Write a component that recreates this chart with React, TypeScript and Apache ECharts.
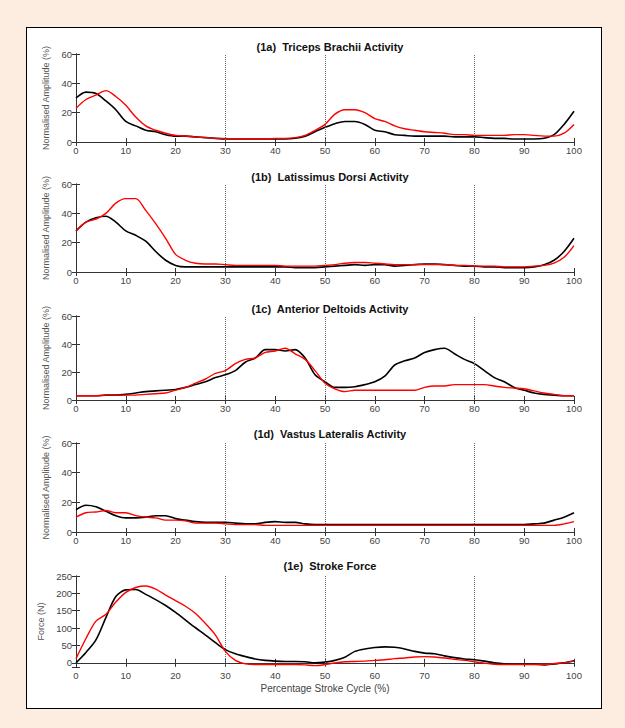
import React, { useEffect, useRef } from "react";
import * as echarts from "echarts";

const X = [0, 2, 4, 6, 8, 10, 12, 14, 16, 18, 20, 22, 24, 26, 28, 30, 32, 34, 36, 38, 40, 42, 44, 46, 48, 50,
  52, 54, 56, 58, 60, 62, 64, 66, 68, 70, 72, 74, 76, 78, 80, 82, 84, 86, 88, 90, 92, 94, 96, 98, 100];

const TITLES = [
  "(1a)  Triceps Brachii Activity",
  "(1b)  Latissimus Dorsi Activity",
  "(1c)  Anterior Deltoids Activity",
  "(1d)  Vastus Lateralis Activity",
  "(1e)  Stroke Force",
];

const tricepsBlack = [30, 34, 33, 28, 22, 14, 11, 8, 7, 5, 4, 4, 3.5, 3, 2.5, 2, 2, 2, 2, 2, 2, 2, 2.5, 4, 7, 10,
  12.5, 14, 14, 12, 8, 7, 5, 4.5, 4, 4, 4, 4, 3.5, 3.5, 3.5, 3, 2.5, 2.5, 2, 2, 2, 2.5, 5, 12, 21];
const tricepsRed = [23, 29, 32, 35, 31, 25, 17, 11, 8, 6, 4.5, 4, 3.5, 3, 2.5, 2.5, 2, 2, 2, 2, 2.5, 2.5, 3, 4.5, 8, 12,
  19, 22, 22, 20, 16, 14, 11, 9, 8, 7, 6.5, 6, 5, 5, 4.5, 4.5, 4.5, 4.5, 5, 5, 4.5, 4, 4, 6, 12];

const latBlack = [28, 34, 37, 38, 34, 28, 25, 21, 14, 8, 4.5, 3.5, 3.5, 3.5, 3.5, 3.5, 3.5, 3.5, 3.5, 3.5, 3.5, 3.5, 3, 3, 3, 3.5,
  4, 4.5, 5, 4.5, 5, 5, 4, 4.5, 5, 5.5, 5.5, 5, 4.5, 4, 4, 3.5, 3.5, 3, 3, 3, 3.5, 5, 8, 14, 23];
const latRed = [28, 34, 36, 40, 47, 50, 50, 42, 33, 23, 12, 8, 6, 5.5, 5.5, 5, 4.5, 4.5, 4.5, 4.5, 4.5, 4, 4, 4, 4, 4.5,
  5, 6, 6.5, 6.5, 6, 5.5, 5, 5, 5, 5, 5, 5, 4.5, 4.5, 4, 4, 4, 3.5, 3.5, 3.5, 4, 4.5, 6, 10, 18];

const deltBlack = [3, 3, 3, 3.5, 3.5, 4, 5, 6, 6.5, 7, 7.5, 9, 11, 13, 16, 18, 21, 27, 30, 36, 36, 35, 36, 30, 18, 13,
  9, 9, 9.5, 11, 13, 17, 25, 28, 30, 34, 36, 37, 33, 29, 26, 21, 16, 13, 9, 7, 5, 4, 3.5, 3, 3];
const deltRed = [3, 3, 3, 3.5, 3.5, 3.5, 3.5, 4, 4.5, 5, 7, 9, 12, 15, 19, 21, 26, 29, 30, 34, 35, 37, 33, 29, 21, 12,
  8, 6, 7, 7, 7, 7, 7, 7, 7, 9, 10, 10, 11, 11, 11, 11, 10, 9, 8.5, 8, 6.5, 5, 4, 3, 3];

const vastBlack = [15, 18, 17, 14, 11, 9.5, 9.5, 10, 11, 11, 9, 8, 7, 6.5, 6.5, 6.5, 6, 5.5, 5.5, 6.5, 7, 6.5, 6.5, 5.5, 5, 5,
  5, 5, 5, 5, 5, 5, 5, 5, 5, 5, 5, 5, 5, 5, 5, 5, 5, 5, 5, 5, 5.5, 6, 8, 10, 13];
const vastRed = [10, 13, 13.5, 14.5, 13, 13, 11, 10, 9.5, 8, 8, 7.5, 6, 6, 6, 5.5, 5, 5, 5, 4.5, 4.5, 4.5, 4.5, 4.5, 4.5, 4.5,
  4.5, 4.5, 4.5, 4.5, 4.5, 4.5, 4.5, 4.5, 4.5, 4.5, 4.5, 4.5, 4.5, 4.5, 4.5, 4.5, 4.5, 4.5, 4.5, 4.5, 4.5, 4.5, 4.5, 5.5, 7];

const forceBlack = [0, 30, 66, 130, 191, 210, 211, 197, 182, 165, 145, 123, 101, 80, 58, 38, 26, 18, 11, 7, 5, 4, 4, 3, 0, 2,
  7, 16, 33, 40, 44, 46, 45, 40, 33, 28, 26, 20, 15, 11, 9, 5, 0, -3, -4, -4, -4, -6, -3, 0, 6];
const forceRed = [12, 70, 120, 140, 175, 203, 217, 221, 212, 195, 179, 163, 142, 113, 80, 33, 7, -3, -5, -5, -5, -5, -5, -6, -8, -5,
  0, 3, 4, 5, 7, 9, 12, 14, 17, 18, 17, 14, 10, 7, 3, -1, -4, -5, -5, -5, -5, -5, -2, 0, 5];

const BLACK_SERIES = [tricepsBlack, latBlack, deltBlack, vastBlack, forceBlack];
const RED_SERIES = [tricepsRed, latRed, deltRed, vastRed, forceRed];
const MARKERS = [30, 50, 80];
const Y_NAMES = ["Normalised Amplitude (%)", "Normalised Amplitude (%)", "Normalised Amplitude (%)", "Normalised Amplitude (%)", "Force (N)"];
const X_NAME = "Percentage Stroke Cycle (%)";

export default function App() {
  const ref = useRef<HTMLDivElement>(null);
  useEffect(() => {
    const chart = echarts.init(ref.current!, null, { renderer: "svg" });
    const FONT = "'Liberation Sans', Arial, sans-serif";
    const grids = [
      { top: 54, height: 88 },
      { top: 184, height: 88 },
      { top: 316, height: 84 },
      { top: 443, height: 89 },
      { top: 576, height: 91 },
    ];
    const titleTops = [36, 166, 298, 423, 555];
    const axisColor = "#333";
    const labelColor = "#444";
    const xAxes: any[] = [];
    const yAxes: any[] = [];
    const series: any[] = [];
    grids.forEach((g, i) => {
      const isForce = i === 4;
      xAxes.push({
        type: "value", gridIndex: i, min: 0, max: 100, interval: 10, position: "bottom",
        axisLine: { show: true, lineStyle: { color: axisColor, width: 1 } },
        axisTick: { show: true, inside: true, length: 4, lineStyle: { color: axisColor } },
        axisLabel: { show: true, color: labelColor, fontSize: 9.5, fontFamily: FONT, margin: 3 },
        splitLine: { show: false },
        name: isForce ? X_NAME : "", nameLocation: "middle", nameGap: 16,
        nameTextStyle: { color: labelColor, fontSize: 10, fontFamily: FONT },
      });
      xAxes.push({
        type: "value", gridIndex: i, min: 0, max: 100, interval: 10, position: "top",
        axisLine: { show: true, lineStyle: { color: axisColor, width: 1 } },
        axisTick: { show: true, inside: true, length: 4, lineStyle: { color: axisColor } },
        axisLabel: { show: false }, splitLine: { show: false },
      });
      const yBase: any = isForce
        ? { min: -12, max: 250, splitNumber: 5 }
        : { min: 0, max: 60, interval: 20 };
      yAxes.push({
        type: "value", gridIndex: i, position: "left", ...yBase,
        axisLine: { show: true, lineStyle: { color: axisColor, width: 1 } },
        axisTick: { show: true, inside: true, length: 4, lineStyle: { color: axisColor } },
        axisLabel: {
          show: true, color: labelColor, fontSize: 9.5, fontFamily: FONT, margin: 4,
          formatter: (v: number) => (v < 0 ? "" : String(v)),
        },
        splitLine: { show: false },
        name: Y_NAMES[i], nameLocation: "middle", nameGap: isForce ? 22 : 20,
        nameTextStyle: { color: "#555", fontSize: 9, fontFamily: FONT },
      });
      yAxes.push({
        type: "value", gridIndex: i, position: "right", ...yBase,
        axisLine: { show: true, lineStyle: { color: axisColor, width: 1 } },
        axisTick: { show: true, inside: true, length: 4, lineStyle: { color: axisColor } },
        axisLabel: { show: false }, splitLine: { show: false },
      });
      const xi = i * 2;
      const yi = i * 2;
      series.push({
        type: "line", xAxisIndex: xi, yAxisIndex: yi, showSymbol: false, symbol: "none", smooth: 0.3,
        data: X.map((x, k) => [x, BLACK_SERIES[i][k]]),
        lineStyle: { color: "#000", width: 1.6 }, z: 3,
        markLine: {
          silent: true, symbol: "none", label: { show: false },
          lineStyle: { color: "#666", type: "dotted", width: 1 },
          data: MARKERS.map((m) => ({ xAxis: m })),
        },
      });
      series.push({
        type: "line", xAxisIndex: xi, yAxisIndex: yi, showSymbol: false, symbol: "none", smooth: 0.3,
        data: X.map((x, k) => [x, RED_SERIES[i][k]]),
        lineStyle: { color: "#f00", width: 1.4 }, z: 4,
      });
    });
    chart.setOption({
      animation: false,
      backgroundColor: "transparent",
      title: TITLES.map((t, i) => ({
        text: t, left: 325, top: titleTops[i], textAlign: "center",
        textStyle: { fontSize: 11, fontWeight: "bold", color: "#111", fontFamily: FONT },
      })),
      grid: grids.map((g) => ({ left: 76, width: 498, top: g.top, height: g.height })),
      xAxis: xAxes,
      yAxis: yAxes,
      series,
    });
    return () => chart.dispose();
  }, []);
  return (
    <div style={{ position: "absolute", left: 0, top: 0, width: 625, height: 728, background: "#fdede1" }}>
      <div style={{ position: "absolute", left: 26, top: 27, width: 574, height: 680, background: "#fff", border: "1.5px solid #000" }} />
      <div ref={ref} style={{ position: "absolute", left: 0, top: 0, width: 625, height: 728 }} />
    </div>
  );
}
